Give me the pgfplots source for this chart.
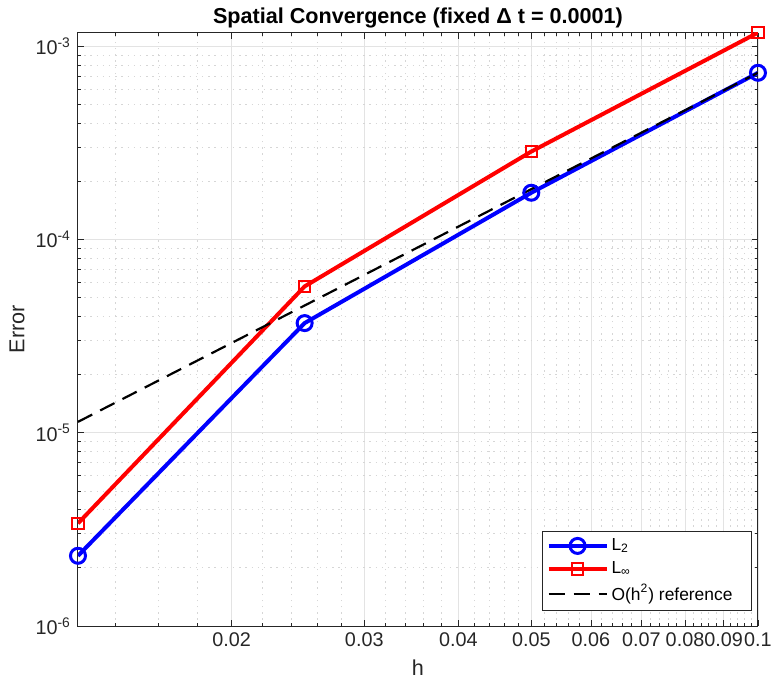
\documentclass[border=0pt]{standalone}
\usepackage{fontspec}
\setmainfont{Liberation Sans}
\usepackage{pgfplots}
\pgfplotsset{compat=1.18}
\definecolor{axgray}{RGB}{38,38,38}
\definecolor{mblue}{RGB}{0,0,255}
\definecolor{mred}{RGB}{255,0,0}
\begin{document}
\begin{tikzpicture}
\path[use as bounding box] (-39pt,-28pt) rectangle (347pt,313pt);
\begin{axis}[
  at={(0,0)}, anchor=south west,
  scale only axis, width=340pt, height=296.7pt,
  xmode=log, ymode=log,
  xmin=0.0125, xmax=0.1, ymin=1e-6, ymax=1.18e-3,
  xtick={0.02,0.03,0.04,0.05,0.06,0.07,0.08,0.09,0.1},
  xticklabels={0.02,0.03,0.04,0.05,0.06,0.07,0.08,0.09,0.1},
  minor xtick={0.014,0.016,0.018,0.022,0.024,0.026,0.028,0.032,0.034,0.036,0.038,0.042,0.044,0.046,0.048,0.052,0.054,0.056,0.058,0.062,0.064,0.066,0.068,0.072,0.074,0.076,0.078,0.082,0.084,0.086,0.088,0.092,0.094,0.096,0.098},
  ytick={1e-6,1e-5,1e-4,1e-3},
  yticklabels={10\textsuperscript{-6},10\textsuperscript{-5},10\textsuperscript{-4},10\textsuperscript{-3}},
  minor ytick={2e-6,3e-6,4e-6,5e-6,6e-6,7e-6,8e-6,9e-6,2e-5,3e-5,4e-5,5e-5,6e-5,7e-5,8e-5,9e-5,2e-4,3e-4,4e-4,5e-4,6e-4,7e-4,8e-4,9e-4},
  tick align=inside,
  major tick length=3pt, minor tick length=1.6pt,
  grid=both,
  major grid style={gray!22, line width=0.4pt},
  minor grid style={gray!32, line width=0.4pt, dash pattern=on 0.7pt off 2.4pt},
  axis line style={axgray, line width=0.5pt},
  every tick/.style={axgray, line width=0.4pt},
  tick label style={font=\fontsize{9.9}{11}\selectfont, text=axgray},
  title={Spatial Convergence (fixed Δ t = 0.0001)},
  title style={font=\fontsize{10.8}{12}\selectfont\bfseries, text=black, at={(0.5,1)}, anchor=base, yshift=-1.5pt},
  xlabel={h}, ylabel={Error},
  every axis x label/.style={at={(rel axis cs:0.5,0)}, yshift=-21pt, anchor=center, font=\fontsize{10.8}{12}\selectfont, text=axgray},
  every axis y label/.style={at={(rel axis cs:0,0.5)}, xshift=-30.5pt, rotate=90, anchor=center, font=\fontsize{10.8}{12}\selectfont, text=axgray},
  legend style={at={(rel axis cs:1,0)}, anchor=south east, xshift=-3pt, yshift=7.5pt,
    draw=axgray, line width=0.5pt, fill=white, font=\fontsize{8.7}{10}\selectfont,
    inner xsep=2pt, inner ysep=2pt, row sep=1pt,
    nodes={inner sep=1.5pt}},
  legend cell align=left,
  legend image code/.code={\draw[mark repeat=2,mark phase=2,#1] plot coordinates {(0pt,0pt) (14.5pt,0pt) (29pt,0pt)};},
]
\addplot[mblue, line width=2pt, mark=o, mark size=3.75pt, mark options={line width=1.5pt}]
  coordinates {(0.0125,2.31e-6) (0.025,3.70e-5) (0.05,1.75e-4) (0.1,7.31e-4)};
\addlegendentry{L\textsubscript{2}}
\addplot[mred, line width=2pt, mark=square, mark size=2.9pt, mark options={line width=1pt}]
  coordinates {(0.0125,3.40e-6) (0.025,5.73e-5) (0.05,2.86e-4) (0.1,1.18e-3)};
\addlegendentry{L\textsubscript{∞}}
\addplot[black, line width=1.1pt, dash pattern=on 8pt off 4.5pt]
  coordinates {(0.0125,1.14e-5) (0.1,7.31e-4)};
\addlegendentry{O(h\textsuperscript{2}) reference\rule{6pt}{0pt}}
\end{axis}
\end{tikzpicture}
\end{document}
